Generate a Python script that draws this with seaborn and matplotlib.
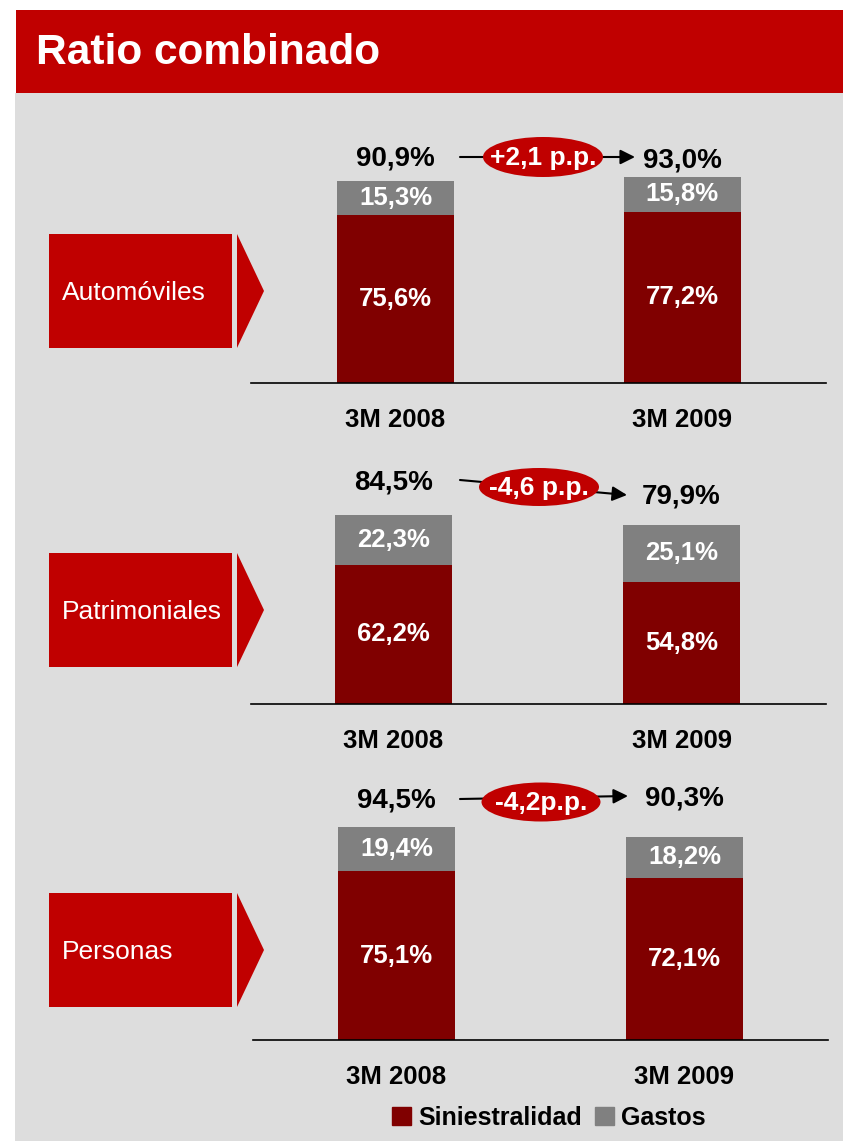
import pandas as pd
import matplotlib.pyplot as plt
import matplotlib.patches as mpatches
import seaborn as sns

sns.set_style('white')
plt.rcParams['font.family'] = ['Liberation Sans', 'DejaVu Sans']
plt.rcParams['text.color'] = 'black'
plt.rcParams['xtick.color'] = 'black'

segmentos = ['Automóviles', 'Patrimoniales', 'Personas']
periodos = ['3M 2008', '3M 2009']
siniestralidad = [[75.6, 77.2], [62.2, 54.8], [75.1, 72.1]]
gastos = [[15.3, 15.8], [22.3, 25.1], [19.4, 18.2]]
ratio_total = [[90.9, 93.0], [84.5, 79.9], [94.5, 90.3]]
variacion = ['+2,1 p.p.', '-4,6 p.p.', '-4,2p.p.']

RED = '#C00000'
DARK = '#800000'
GREY = '#808080'
BG = '#DDDDDD'
W, H = 843, 1141

def pct(v):
    return f"{v:.1f}".replace('.', ',') + '%'

fig = plt.figure(figsize=(W / 100, H / 100), dpi=100)

# background layer in pixel coordinates
bg = fig.add_axes([0, 0, 1, 1], zorder=0)
bg.set_xlim(0, W)
bg.set_ylim(H, 0)
bg.axis('off')
bg.add_patch(mpatches.Rectangle((15, 93), W - 15, H - 93, color=BG, lw=0))
bg.add_patch(mpatches.Rectangle((16, 10), W - 16, 83, color=RED, lw=0))
bg.text(36, 53, 'Ratio combinado', color='white', fontsize=30.5, fontweight='bold',
        va='center', ha='left')

# panel geometry (pixels)
axis_y = [383, 704, 1040]
ax_left = [251, 251, 253]
ax_right = [826, 826, 828]
centers = [(395.5, 682), (393.5, 681.5), (396.5, 684.5)]
px_per_pct = [2.22, 2.235, 2.25]
box_top = [234, 553, 893]
total_gap = [(23, 16), (33, 29), (27, 38)]
arrows = [((460, 157), (635, 157)), ((460, 480), (627, 495)), ((460, 799), (628, 796))]
ellipses = [(543, 157, 120, 40), (539, 487, 120, 38), (541, 802, 119, 39)]
bar_px = 117
ax_h = 260

for k, seg in enumerate(segmentos):
    df = pd.DataFrame({'periodo': periodos,
                       'Siniestralidad': siniestralidad[k],
                       'Gastos': gastos[k],
                       'total': ratio_total[k]})
    L, R, yb = ax_left[k], ax_right[k], axis_y[k]
    ax = fig.add_axes([L / W, 1 - yb / H, (R - L) / W, ax_h / H], zorder=1)
    ax.patch.set_alpha(0)
    c0, c1 = centers[k]
    unit = c1 - c0
    sns.barplot(data=df, x='periodo', y='total', color=GREY, width=bar_px / unit,
                saturation=1, linewidth=0, edgecolor='none', ax=ax)
    sns.barplot(data=df, x='periodo', y='Siniestralidad', color=DARK,
                width=bar_px / unit, saturation=1, linewidth=0, edgecolor='none', ax=ax)
    ax.set_xlim((L - c0) / unit, (R - c0) / unit)
    ax.set_ylim(0, ax_h / px_per_pct[k])
    for s in ['top', 'right', 'left']:
        ax.spines[s].set_visible(False)
    ax.spines['bottom'].set_color('black')
    ax.spines['bottom'].set_linewidth(1.2)
    ax.set_yticks([])
    ax.set_xlabel('')
    ax.set_ylabel('')
    ax.tick_params(axis='x', length=0, pad=18)
    for lab in ax.get_xticklabels():
        lab.set_fontsize(18.5)
        lab.set_fontweight('bold')
        lab.set_color('black')
    for i in range(2):
        s, g, t = siniestralidad[k][i], gastos[k][i], ratio_total[k][i]
        ax.text(i, s / 2, pct(s), color='white', fontsize=18.5, fontweight='bold',
                ha='center', va='center')
        ax.text(i, s + g / 2, pct(g), color='white', fontsize=18.5, fontweight='bold',
                ha='center', va='center')
        ax.annotate(pct(t), xy=(i, t), xytext=(0, total_gap[k][i] * 0.72),
                    textcoords='offset points', fontsize=20, fontweight='bold',
                    color='black', ha='center', va='center', annotation_clip=False)

    # segment label box with chevron
    bt = box_top[k]
    bg.add_patch(mpatches.Rectangle((49, bt), 183, 114, color=RED, lw=0))
    bg.add_patch(mpatches.Polygon([(237, bt), (264, bt + 57), (237, bt + 114)],
                                  closed=True, color=RED, lw=0))
    bg.text(62, bt + 59, seg, color='white', fontsize=19, va='center', ha='left')

# overlay for change arrows
top = fig.add_axes([0, 0, 1, 1], zorder=2)
top.set_xlim(0, W)
top.set_ylim(H, 0)
top.axis('off')
for k in range(3):
    (x0, y0), (x1, y1) = arrows[k]
    top.annotate('', xy=(x1, y1), xytext=(x0, y0),
                 arrowprops=dict(arrowstyle='-|>', color='black', lw=1.5,
                                 mutation_scale=22, shrinkA=0, shrinkB=0))
    ex, ey, ew, eh = ellipses[k]
    top.add_patch(mpatches.Ellipse((ex, ey), ew, eh, color=RED, lw=0, zorder=3))
    top.text(ex, ey + 1, variacion[k], color='white', fontsize=19, fontweight='bold',
             ha='center', va='center', zorder=4)

handles = [mpatches.Patch(color=DARK, label='Siniestralidad'),
           mpatches.Patch(color=GREY, label='Gastos')]
leg = fig.legend(handles=handles, loc='center', bbox_to_anchor=(549 / W, 1 - 1118 / H),
                 ncol=2, frameon=False, handlelength=0.75, handleheight=0.75,
                 handletextpad=0.3, columnspacing=0.5,
                 prop={'size': 18, 'weight': 'bold'})
for txt in leg.get_texts():
    txt.set_color('black')
leg.set_zorder(5)

fig.savefig('out.png', dpi=100)
